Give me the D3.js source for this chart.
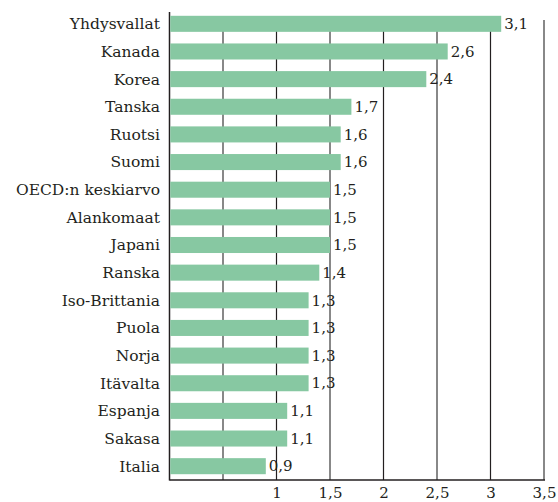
<!DOCTYPE html>
<html>
<head>
<meta charset="utf-8">
<script src="https://cdn.jsdelivr.net/npm/d3@7"></script>
<style>
  body { margin: 0; background: #fff; }
  svg text { fill: #231f20; }
</style>
</head>
<body>
<svg id="chart"></svg>
<script>
const countries = ['Yhdysvallat', 'Kanada', 'Korea', 'Tanska', 'Ruotsi', 'Suomi',
  'OECD:n keskiarvo', 'Alankomaat', 'Japani', 'Ranska', 'Iso-Brittania', 'Puola',
  'Norja', 'Itävalta', 'Espanja', 'Sakasa', 'Italia'];
const values = [3.1, 2.6, 2.4, 1.7, 1.6, 1.6, 1.5, 1.5, 1.5, 1.4, 1.3, 1.3, 1.3, 1.3, 1.1, 1.1, 0.9];
const gridValues = [0.5, 1, 1.5, 2, 2.5, 3, 3.5];
const tickLabels = ['', '1', '1,5', '2', '2,5', '3', '3,5'];

const width = 558, height = 502;
const fontStack = '"DejaVu Serif", "Liberation Serif", serif';
const svg = d3.select('#chart').attr('width', width).attr('height', height);

const x = d3.scaleLinear().domain([0, 3.5]).range([169.5, 544]);
const y = d3.scaleBand().domain(countries).range([10, 480])
  .paddingInner(0.42).paddingOuter(0.21);

// gridlines (whole numbers dark, halves gray)
svg.append('g').selectAll('line')
  .data(gridValues)
  .enter().append('line')
  .attr('x1', d => x(d)).attr('x2', d => x(d))
  .attr('y1', 20).attr('y2', 480)
  .attr('stroke', d => d % 1 === 0 ? '#231f20' : '#888')
  .attr('stroke-width', d => d % 1 === 0 ? 1.2 : 2);

// axis lines
svg.append('line')
  .attr('x1', x(0)).attr('x2', x(0)).attr('y1', 12).attr('y2', 480.5)
  .attr('stroke', '#231f20').attr('stroke-width', 1.5);
svg.append('line')
  .attr('x1', x(0)).attr('x2', x(3.5) + 1).attr('y1', 480).attr('y2', 480)
  .attr('stroke', '#231f20').attr('stroke-width', 1.5);

svg.selectAll('.bar')
  .data(values)
  .enter().append('rect')
  .attr('class', 'bar')
  .attr('x', x(0) + 0.75)
  .attr('y', (d, i) => y(countries[i]))
  .attr('width', d => x(d) - x(0) - 0.75)
  .attr('height', y.bandwidth())
  .attr('fill', '#87c8a2');

// category labels
svg.selectAll('.cat')
  .data(countries)
  .enter().append('text')
  .attr('class', 'cat')
  .attr('x', 160)
  .attr('y', d => y(d) + y.bandwidth() / 2)
  .attr('dy', '0.35em')
  .attr('text-anchor', 'end')
  .attr('font-family', fontStack)
  .attr('font-size', 15.5)
  .text(d => d);

// value labels
svg.selectAll('.val')
  .data(values)
  .enter().append('text')
  .attr('class', 'val')
  .attr('x', d => x(d) + 3)
  .attr('y', (d, i) => y(countries[i]) + y.bandwidth() / 2)
  .attr('dy', '0.35em')
  .attr('font-family', fontStack)
  .attr('font-size', 15)
  .text(d => String(d).replace('.', ','));

// x tick labels
const xAxis = d3.axisBottom(x)
  .tickValues(gridValues)
  .tickSize(0)
  .tickPadding(7)
  .tickFormat((d, i) => tickLabels[i]);
const gx = svg.append('g')
  .attr('transform', 'translate(0,480)')
  .call(xAxis);
gx.select('.domain').remove();
gx.attr('font-family', fontStack).attr('font-size', 15);
gx.selectAll('text').attr('fill', '#231f20');
</script>
</body>
</html>
